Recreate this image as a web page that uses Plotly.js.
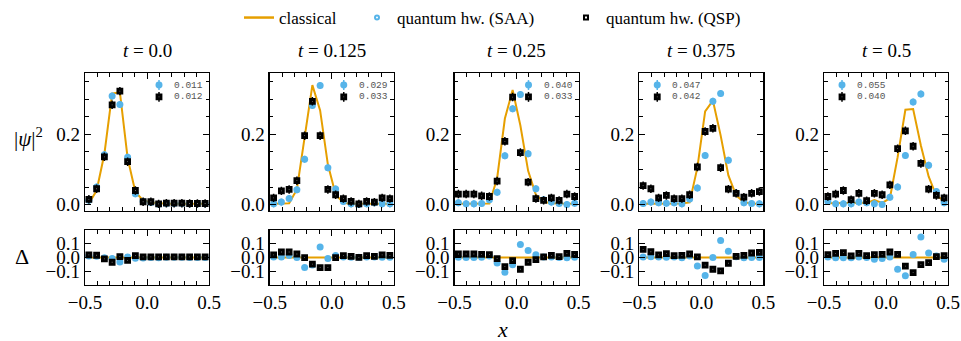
<!DOCTYPE html>
<html><head><meta charset="utf-8">
<script src="https://cdn.plot.ly/plotly-3.0.1.min.js"></script>
<style>html,body{margin:0;padding:0;background:#fff}</style>
</head><body><div id="chart" style="width:961px;height:341px"></div>
<script>
// ---------------- data ----------------
const xs = [-0.46875,-0.40625,-0.34375,-0.28125,-0.21875,-0.15625,-0.09375,-0.03125,0.03125,0.09375,0.15625,0.21875,0.28125,0.34375,0.40625,0.46875];
const times = ['0.0','0.125','0.25','0.375','0.5'];

const classical_t0 = [0.003,0.040,0.144,0.316,0.320,0.132,0.036,0.012,0.006,0.003,0.002,0.002,0.002,0.002,0.002,0.002];
const saa_t0       = [0.012,0.050,0.142,0.309,0.285,0.135,0.031,0.009,0.006,0.001,0.003,0.003,0.003,0.002,0.002,0.002];
const qsp_t0       = [0.015,0.045,0.136,0.284,0.323,0.122,0.040,0.008,0.008,0.002,0.004,0.004,0.004,0.003,0.003,0.003];
const dSaa_t0      = [0.010,0.008,-0.002,-0.008,-0.033,0.003,-0.005,-0.003,0.000,-0.002,0.001,0.001,0.001,0.000,0.000,0.000];
const dQsp_t0      = [0.018,0.016,-0.010,-0.034,0.006,-0.020,0.014,0.004,0.005,0.004,0.004,0.004,0.004,0.004,0.004,0.004];

const classical_t1 = [0.002,0.002,0.004,0.043,0.198,0.340,0.268,0.114,0.029,0.005,0.002,0.001,0.002,0.002,0.002,0.002];
const saa_t1       = [0.002,0.007,0.017,0.042,0.129,0.282,0.339,0.105,0.044,0.009,0.002,0.000,0.002,0.005,0.002,0.002];
const qsp_t1       = [0.019,0.039,0.043,0.068,0.196,0.294,0.196,0.043,0.028,0.017,0.009,0.002,0.009,0.007,0.019,0.017];
const dSaa_t1      = [0.004,0.004,0.015,0.000,-0.072,-0.053,0.074,-0.008,0.015,0.004,0.002,0.001,0.003,0.004,0.002,0.002];
const dQsp_t1      = [0.018,0.039,0.039,0.025,-0.001,-0.048,-0.072,-0.072,-0.001,0.013,0.008,0.001,0.013,0.008,0.018,0.015];

const classical_t2 = [0.002,0.002,0.002,0.002,0.003,0.075,0.245,0.326,0.225,0.096,0.028,0.008,0.004,0.003,0.002,0.002];
const saa_t2       = [0.005,0.002,0.002,0.003,0.014,0.035,0.139,0.273,0.313,0.145,0.045,0.014,0.007,0.003,0.000,0.004];
const qsp_t2       = [0.030,0.030,0.030,0.025,0.023,0.067,0.180,0.306,0.148,0.064,0.017,0.012,0.019,0.012,0.030,0.023];
const dSaa_t2      = [0.002,0.000,0.000,0.001,0.010,-0.040,-0.106,-0.052,0.093,0.050,0.020,0.004,0.003,0.000,-0.002,0.002];
const dQsp_t2      = [0.025,0.025,0.025,0.022,0.020,-0.008,-0.065,-0.022,-0.084,-0.034,-0.015,0.004,0.015,0.006,0.029,0.022];

const classical_t3 = [0.002,0.002,0.002,0.002,0.002,0.003,0.006,0.105,0.265,0.296,0.197,0.083,0.026,0.007,0.003,0.002];
const saa_t3       = [0.003,0.007,0.005,0.004,0.005,0.002,0.016,0.047,0.140,0.294,0.316,0.126,0.033,0.005,0.003,0.002];
const qsp_t3       = [0.054,0.045,0.019,0.026,0.017,0.017,0.028,0.107,0.208,0.217,0.105,0.044,0.032,0.021,0.032,0.037];
const dSaa_t3      = [0.003,0.005,0.003,0.002,0.003,-0.001,0.010,-0.060,-0.128,0.000,0.121,0.044,0.006,-0.002,0.000,0.000];
const dQsp_t3      = [0.058,0.041,0.018,0.027,0.013,0.015,0.025,0.004,-0.055,-0.084,-0.095,-0.041,0.008,0.015,0.032,0.036];

const classical_t4 = [0.004,0.004,0.004,0.004,0.004,0.005,0.013,0.005,0.018,0.135,0.270,0.272,0.168,0.080,0.024,0.012];
const saa_t4       = [0.009,0.002,0.002,0.002,0.007,0.005,0.002,0.000,0.021,0.050,0.140,0.292,0.315,0.112,0.037,0.005];
const qsp_t4       = [0.023,0.030,0.040,0.014,0.032,0.011,0.032,0.028,0.056,0.159,0.210,0.166,0.117,0.044,0.026,0.019];
const dSaa_t4      = [0.003,-0.002,-0.002,-0.002,0.003,0.000,-0.013,-0.008,0.003,-0.084,-0.130,0.022,0.147,0.032,0.010,-0.013];
const dQsp_t4      = [0.020,0.029,0.034,0.011,0.029,0.013,0.020,0.022,0.039,0.022,-0.061,-0.108,-0.051,-0.036,0.006,0.013];

const deltaClassical = [0,0,0,0,0,0,0,0,0,0,0,0,0,0,0,0];

const saaErrLabels = ['0.011','0.029','0.040','0.047','0.055'];
const qspErrLabels = ['0.012','0.033','0.033','0.042','0.040'];
const errSAA = 0.010;
const errQSP = 0.012;

const classicalSets = [classical_t0, classical_t1, classical_t2, classical_t3, classical_t4];
const saaSets = [saa_t0, saa_t1, saa_t2, saa_t3, saa_t4];
const qspSets = [qsp_t0, qsp_t1, qsp_t2, qsp_t3, qsp_t4];
const dSaaSets = [dSaa_t0, dSaa_t1, dSaa_t2, dSaa_t3, dSaa_t4];
const dQspSets = [dQsp_t0, dQsp_t1, dQsp_t2, dQsp_t3, dQsp_t4];

// ---------------- style ----------------
const W = 961, H = 341;
const ORANGE = '#E69F00', BLUE = '#56B4E9', BLACK = '#000000';
const SERIF = 'Liberation Serif';
const px = v => v / W;
const py = v => 1 - v / H;
const sfx = n => n === 1 ? '' : String(n);

const panelLeft = i => 85 + 184.75 * i;
const panelW = 124;
const topY = [209, 70], botY = [284, 229];

const traces = [];
const layout = {
  width: W, height: H, autosize: false,
  margin: {l: 0, r: 0, t: 0, b: 0},
  paper_bgcolor: '#fff', plot_bgcolor: '#fff',
  font: {family: SERIF, size: 19, color: '#000'},
  showlegend: true,
  annotations: [], shapes: []
};

function axisBase() {
  return {
    showline: true, linecolor: '#000', linewidth: 1.3, mirror: 'allticks',
    ticks: 'inside', ticklen: 6, tickwidth: 1, tickcolor: '#000',
    showgrid: false, zeroline: false, fixedrange: true,
    tickfont: {family: SERIF, size: 19, color: '#000'}
  };
}

for (let i = 0; i < 5; i++) {
  const nt = i + 1, nb = i + 6;
  const L = panelLeft(i), R = L + panelW;
  layout['xaxis' + sfx(nt)] = Object.assign(axisBase(), {
    domain: [px(L), px(R)], anchor: 'y' + sfx(nt), range: [-0.5, 0.5],
    tick0: 0, dtick: 0.5, showticklabels: false,
    minor: {dtick: 0.1, tick0: 0, ticks: 'inside', ticklen: 3.5, tickwidth: 1, tickcolor: '#000'}
  });
  layout['yaxis' + sfx(nt)] = Object.assign(axisBase(), {
    domain: [py(topY[0]), py(topY[1])], anchor: 'x' + sfx(nt), range: [-0.017, 0.374],
    tick0: 0, dtick: 0.2, tickformat: '.1f',
    minor: {dtick: 0.05, tick0: 0, ticks: 'inside', ticklen: 3.5, tickwidth: 1, tickcolor: '#000'}
  });
  layout['xaxis' + sfx(nb)] = Object.assign(axisBase(), {
    domain: [px(L), px(R)], anchor: 'y' + sfx(nb), range: [-0.5, 0.5],
    tick0: 0, dtick: 0.5, tickformat: '.1f',
    minor: {dtick: 0.1, tick0: 0, ticks: 'inside', ticklen: 3.5, tickwidth: 1, tickcolor: '#000'}
  });
  layout['yaxis' + sfx(nb)] = Object.assign(axisBase(), {
    domain: [py(botY[0]), py(botY[1])], anchor: 'x' + sfx(nb), range: [-0.194, 0.194],
    tickvals: [-0.1, 0, 0.1], tickformat: '.1f'
  });

  const xt = 'x' + sfx(nt), yt = 'y' + sfx(nt), xb = 'x' + sfx(nb), yb = 'y' + sfx(nb);
  const saaMarker = {symbol: 'circle', size: 7, color: BLUE, line: {width: 0}};
  const qspMarker = {symbol: 'square', size: 3.8, color: '#888888', line: {color: BLACK, width: 3.0}};
  const eSaa = {type: 'constant', value: errSAA, color: BLUE, thickness: 1.5, width: 0};
  const eQsp = {type: 'constant', value: errQSP, color: BLACK, thickness: 1.5, width: 0};

  traces.push({x: xs, y: classicalSets[i], xaxis: xt, yaxis: yt, mode: 'lines',
    line: {color: ORANGE, width: 2}, showlegend: false, hoverinfo: 'skip'});
  traces.push({x: xs, y: saaSets[i], xaxis: xt, yaxis: yt, mode: 'markers',
    marker: saaMarker, error_y: eSaa, showlegend: false, hoverinfo: 'skip'});
  traces.push({x: xs, y: qspSets[i], xaxis: xt, yaxis: yt, mode: 'markers',
    marker: qspMarker, error_y: eQsp, showlegend: false, hoverinfo: 'skip'});

  traces.push({x: xs, y: deltaClassical, xaxis: xb, yaxis: yb, mode: 'lines',
    line: {color: ORANGE, width: 2}, showlegend: false, hoverinfo: 'skip'});
  traces.push({x: xs, y: dSaaSets[i], xaxis: xb, yaxis: yb, mode: 'markers',
    marker: saaMarker, error_y: eSaa, showlegend: false, hoverinfo: 'skip'});
  traces.push({x: xs, y: dQspSets[i], xaxis: xb, yaxis: yb, mode: 'markers',
    marker: qspMarker, error_y: eQsp, showlegend: false, hoverinfo: 'skip'});

  layout.annotations.push({xref: 'paper', yref: 'paper', x: px(L + panelW / 2), y: py(47),
    xanchor: 'center', yanchor: 'middle', showarrow: false,
    text: '<i>t</i> = ' + times[i], font: {family: SERIF, size: 19, color: '#000'}});

  const mx = L + (i < 3 ? 74 : 18), tx = L + (i < 3 ? 87 : 31);
  const r1 = 82, r2 = 94;
  layout.shapes.push({type: 'line', xref: 'paper', yref: 'paper', x0: px(mx), x1: px(mx), y0: py(r1 - 5), y1: py(r1 + 5), line: {color: BLUE, width: 1.5}});
  layout.shapes.push({type: 'circle', xref: 'paper', yref: 'paper', x0: px(mx - 3.5), x1: px(mx + 3.5), y0: py(r1 - 3.5), y1: py(r1 + 3.5), fillcolor: BLUE, line: {width: 0}});
  layout.shapes.push({type: 'line', xref: 'paper', yref: 'paper', x0: px(mx), x1: px(mx), y0: py(r2 - 5), y1: py(r2 + 5), line: {color: BLACK, width: 1.5}});
  layout.shapes.push({type: 'rect', xref: 'paper', yref: 'paper', x0: px(mx - 1.9), x1: px(mx + 1.9), y0: py(r2 - 1.9), y1: py(r2 + 1.9), fillcolor: '#888888', line: {color: BLACK, width: 3.0}});
  layout.annotations.push({xref: 'paper', yref: 'paper', x: px(tx), y: py(r1), xanchor: 'left', yanchor: 'middle',
    showarrow: false, text: saaErrLabels[i], font: {family: 'Liberation Mono', size: 9.5, color: '#555'}});
  layout.annotations.push({xref: 'paper', yref: 'paper', x: px(tx), y: py(r2), xanchor: 'left', yanchor: 'middle',
    showarrow: false, text: qspErrLabels[i], font: {family: 'Liberation Mono', size: 9.5, color: '#555'}});
}

layout.annotations.push({xref: 'paper', yref: 'paper', x: px(28), y: py(135), xanchor: 'center', yanchor: 'middle',
  showarrow: false, text: '|<i>ψ</i>|<sup>2</sup>', font: {family: SERIF, size: 21, color: '#000'}});
layout.annotations.push({xref: 'paper', yref: 'paper', x: px(22), y: py(256), xanchor: 'center', yanchor: 'middle',
  showarrow: false, text: 'Δ', font: {family: SERIF, size: 22, color: '#000'}});
layout.annotations.push({xref: 'paper', yref: 'paper', x: px(502), y: py(329), xanchor: 'center', yanchor: 'middle',
  showarrow: false, text: '<i>x</i>', font: {family: SERIF, size: 22, color: '#000'}});

const legFont = {family: SERIF, size: 17, color: '#000'};
layout.legend  = {x: px(239), xanchor: 'left', y: py(14), yanchor: 'middle', orientation: 'h', font: legFont, bgcolor: 'rgba(0,0,0,0)', borderwidth: 0};
layout.legend2 = {x: px(357), xanchor: 'left', y: py(14), yanchor: 'middle', orientation: 'h', font: legFont, bgcolor: 'rgba(0,0,0,0)', borderwidth: 0};
layout.legend3 = {x: px(566), xanchor: 'left', y: py(14), yanchor: 'middle', orientation: 'h', font: legFont, bgcolor: 'rgba(0,0,0,0)', borderwidth: 0};
traces.push({x: [null], y: [null], name: 'classical', mode: 'lines', line: {color: ORANGE, width: 2.5}, legend: 'legend', showlegend: true});
traces.push({x: [null], y: [null], name: 'quantum hw. (SAA)', mode: 'markers', marker: {symbol: 'circle', size: 4, color: '#ffffff', line: {color: BLUE, width: 2}}, legend: 'legend2', showlegend: true});
traces.push({x: [null], y: [null], name: 'quantum hw. (QSP)', mode: 'markers', marker: {symbol: 'square', size: 4, color: '#ffffff', line: {color: BLACK, width: 2}}, legend: 'legend3', showlegend: true});

Plotly.newPlot('chart', traces, layout, {displayModeBar: false, staticPlot: true});
</script></body></html>
